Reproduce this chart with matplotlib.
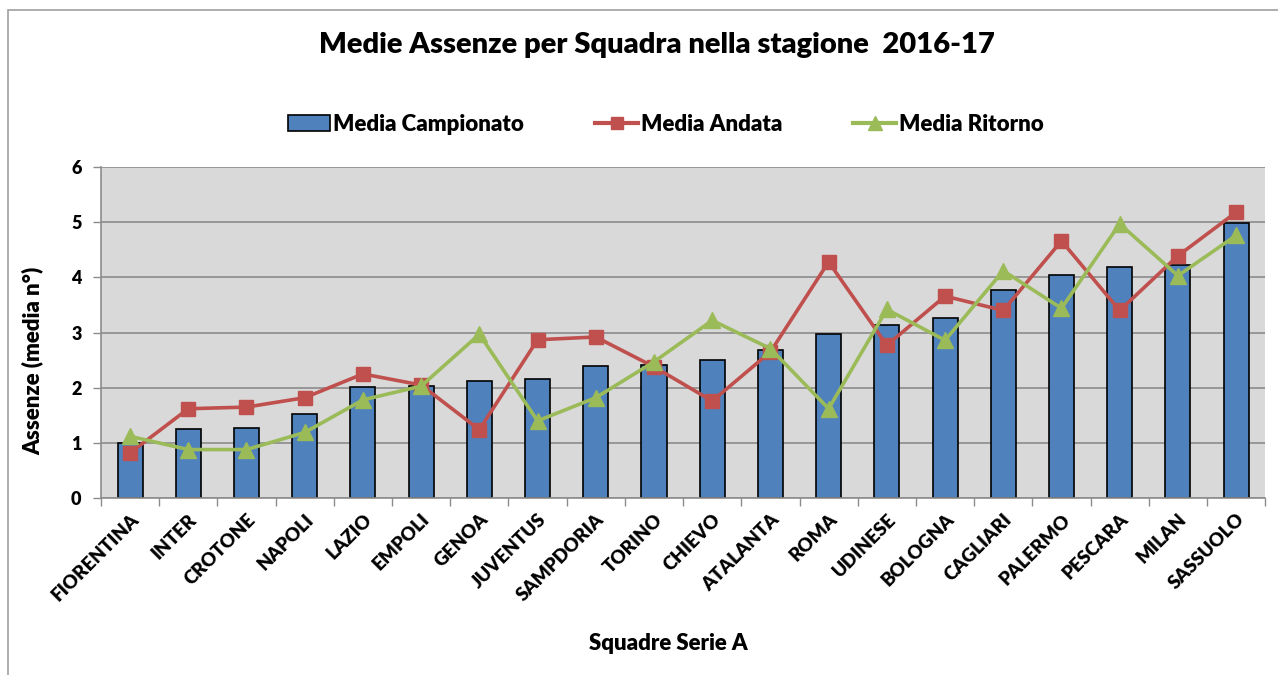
import numpy as np
import matplotlib
import matplotlib.pyplot as plt
from matplotlib.lines import Line2D
from matplotlib.patches import Patch, Rectangle

matplotlib.use("Agg")

# Data
squadre = ["FIORENTINA", "INTER", "CROTONE", "NAPOLI", "LAZIO", "EMPOLI", "GENOA",
           "JUVENTUS", "SAMPDORIA", "TORINO", "CHIEVO", "ATALANTA", "ROMA", "UDINESE",
           "BOLOGNA", "CAGLIARI", "PALERMO", "PESCARA", "MILAN", "SASSUOLO"]
media_campionato = [1.00, 1.25, 1.28, 1.52, 2.01, 2.04, 2.12, 2.15, 2.39, 2.42,
                    2.50, 2.69, 2.97, 3.13, 3.26, 3.78, 4.05, 4.19, 4.22, 4.98]
media_andata = [0.82, 1.62, 1.65, 1.82, 2.25, 2.05, 1.24, 2.87, 2.92, 2.38,
                1.76, 2.65, 4.28, 2.77, 3.66, 3.40, 4.66, 3.40, 4.39, 5.18]
media_ritorno = [1.12, 0.88, 0.88, 1.19, 1.78, 2.03, 2.97, 1.40, 1.82, 2.47,
                 3.22, 2.71, 1.62, 3.42, 2.86, 4.12, 3.44, 4.97, 4.03, 4.76]

BLUE = "#4F81BD"
RED = "#C0504D"
GREEN = "#9BBB59"
BG = "#D9D9D9"
GRID = "#8C8C8C"
FONT = "Lato"
W = "heavy"

plt.rcParams["font.family"] = [FONT, "DejaVu Sans"]
plt.rcParams["font.weight"] = W

fig = plt.figure(figsize=(12.78, 6.75), dpi=100)
ax = fig.add_axes([0.079, 0.262, 0.911, 0.4906])

x = np.arange(len(squadre))
ax.set_facecolor(BG)
ax.bar(x, media_campionato, width=0.43, color=BLUE, edgecolor="black",
       linewidth=1.2, zorder=2)
ax.plot(x, media_andata, color=RED, linewidth=2.6, marker="s", markersize=10,
        zorder=3)
ax.plot(x, media_ritorno, color=GREEN, linewidth=2.6, marker="^", markersize=11,
        zorder=4)

ax.set_xlim(-0.5, len(squadre) - 0.5)
ax.set_ylim(0, 6)
ax.set_yticks(range(0, 7))
ax.yaxis.grid(True, color=GRID, linewidth=1.2, zorder=0)
ax.set_axisbelow(True)

# ticks between categories
ax.set_xticks(np.arange(-0.5, len(squadre), 1.0), minor=False)
ax.set_xticklabels([])
ax.set_xticks(x, minor=True)
ax.set_xticklabels(squadre, minor=True, rotation=45, ha="right",
                   rotation_mode="anchor", fontsize=13.5, fontweight=W)
ax.tick_params(axis="x", which="minor", length=0, pad=9)
ax.tick_params(axis="x", which="major", length=6, color=GRID, width=1)
ax.tick_params(axis="y", length=6, color=GRID, width=1, labelsize=13, pad=8)
for lbl in ax.get_yticklabels():
    lbl.set_fontweight(W)

for side in ["top", "right"]:
    ax.spines[side].set_visible(False)
for side in ["left", "bottom"]:
    ax.spines[side].set_color(GRID)
    ax.spines[side].set_linewidth(1.2)

ax.set_ylabel("Assenze (media n°)", fontsize=16, fontweight=W)
ax.yaxis.set_label_coords(-0.049, 0.415)
fig.text(0.523, 0.047, "Squadre Serie A", ha="center", va="center",
         fontsize=16, fontweight=W)
fig.text(0.514, 0.933, "Medie Assenze per Squadra nella stagione  2016-17",
         ha="center", va="center", fontsize=21, fontweight=W)

handles = [
    Patch(facecolor=BLUE, edgecolor="black", linewidth=1.2),
    Line2D([0], [0], color=RED, linewidth=3, marker="s", markersize=9),
    Line2D([0], [0], color=GREEN, linewidth=3, marker="^", markersize=10),
]
fig.legend(handles, ["Media Campionato", "Media Andata", "Media Ritorno"],
           loc="center", bbox_to_anchor=(0.521, 0.816), ncol=3, frameon=False,
           prop={"family": FONT, "weight": W, "size": 16},
           handlelength=1.9, handletextpad=0.15, columnspacing=3.2)

# chart border
fig.patches.append(Rectangle((0.006, -0.02), 1.1, 1.005, transform=fig.transFigure,
                             fill=False, edgecolor="#A0A0A0", linewidth=1.2))

fig.savefig("out.png", dpi=100)
